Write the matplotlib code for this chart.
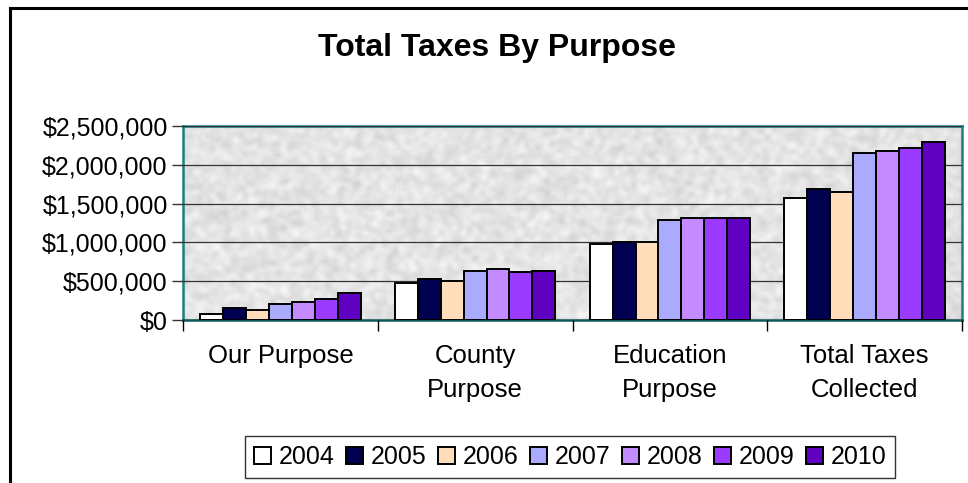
import numpy as np
import matplotlib
matplotlib.use('Agg')
import matplotlib.pyplot as plt
from matplotlib.lines import Line2D
from matplotlib.ticker import FuncFormatter, FixedLocator

plt.rcParams['font.family'] = ['Liberation Sans', 'DejaVu Sans']

# data
categories = ['Our Purpose', 'County\nPurpose', 'Education\nPurpose', 'Total Taxes\nCollected']
years = ['2004', '2005', '2006', '2007', '2008', '2009', '2010']
our_purpose = [77000, 151000, 125000, 202000, 228000, 271000, 353000]
county_purpose = [473000, 529000, 499000, 628000, 654000, 624000, 628000]
education_purpose = [981000, 1007000, 1003000, 1291000, 1312000, 1308000, 1312000]
total_collected = [1566000, 1691000, 1644000, 2147000, 2173000, 2216000, 2298000]
colors = ['#FFFFFF', '#000050', '#FFDDBB', '#AAAAFF', '#C48AFF', '#9B3BFF', '#6000C0']

values = np.array([our_purpose, county_purpose, education_purpose, total_collected])

W, H = 968, 483
fig = plt.figure(figsize=(W / 100, H / 100), dpi=100)
fig.patch.set_facecolor('white')

# plot area in pixels: left 183, right 962, top 126, bottom 320
ax = fig.add_axes([183 / W, 1 - 320 / H, (962 - 183) / W, (320 - 126) / H])

# granite-like background texture (decoration only)
rng = np.random.default_rng(3)
tex = rng.random((90, 340))
k = np.ones(3) / 3
tex = np.apply_along_axis(lambda r: np.convolve(r, k, mode='same'), 1, tex)
tex = np.apply_along_axis(lambda c: np.convolve(c, k, mode='same'), 0, tex)
tex = 0.79 + 0.20 * (tex - tex.min()) / (tex.max() - tex.min())
ax.imshow(tex, cmap='gray', vmin=0, vmax=1, extent=[-0.5, 3.5, 0, 2500000],
          aspect='auto', interpolation='bicubic', zorder=0)

bw = 1 / 8.5
x = np.arange(len(categories))
for j, yr in enumerate(years):
    ax.bar(x + (j - 3) * bw, values[:, j], width=bw, color=colors[j],
           edgecolor='black', linewidth=1.4, label=yr, zorder=3)

ax.set_xlim(-0.5, 3.5)
ax.set_ylim(0, 2500000)
ax.yaxis.set_major_locator(FixedLocator(np.arange(0, 2500001, 500000)))
ax.yaxis.set_major_formatter(FuncFormatter(lambda v, p: '${:,.0f}'.format(v)))
ax.grid(axis='y', color='#333333', linewidth=0.9, zorder=1)
ax.set_axisbelow(False)

ax.set_xticks(x)
ax.set_xticklabels(categories, fontsize=18.5, linespacing=1.5)
ax.tick_params(axis='x', which='major', length=0, pad=17.5)
ax.xaxis.set_minor_locator(FixedLocator(np.arange(-0.5, 3.6, 1)))
ax.tick_params(axis='x', which='minor', length=8, width=1, color='black')
ax.tick_params(axis='y', labelsize=18, length=8, width=1, color='#333333', pad=3)

for s in ['top', 'left', 'right']:
    ax.spines[s].set_color('#1a8080')
    ax.spines[s].set_linewidth(1.8)
ax.spines['bottom'].set_color('#0d5a5a')
ax.spines['bottom'].set_linewidth(1.8)

fig.text(497 / W, 1 - 48 / H, 'Total Taxes By Purpose', fontsize=23, fontweight='bold',
         ha='center', va='center')

leg = fig.legend(loc='center', bbox_to_anchor=(570 / W, 1 - 457 / H), ncol=7,
                 fontsize=18, frameon=True, fancybox=False, edgecolor='black',
                 handlelength=0.7, handleheight=0.7, handletextpad=0.3,
                 columnspacing=0.45, borderpad=0.35, borderaxespad=0)
leg.get_frame().set_linewidth(1.0)

# outer chart border
fig.add_artist(Line2D([10 / W, 1], [1 - 8 / H, 1 - 8 / H], color='black', linewidth=2.2,
                      transform=fig.transFigure))
fig.add_artist(Line2D([10 / W, 10 / W], [1 - 8 / H, 0], color='black', linewidth=2.2,
                      transform=fig.transFigure))

fig.savefig('out.png', dpi=100)
